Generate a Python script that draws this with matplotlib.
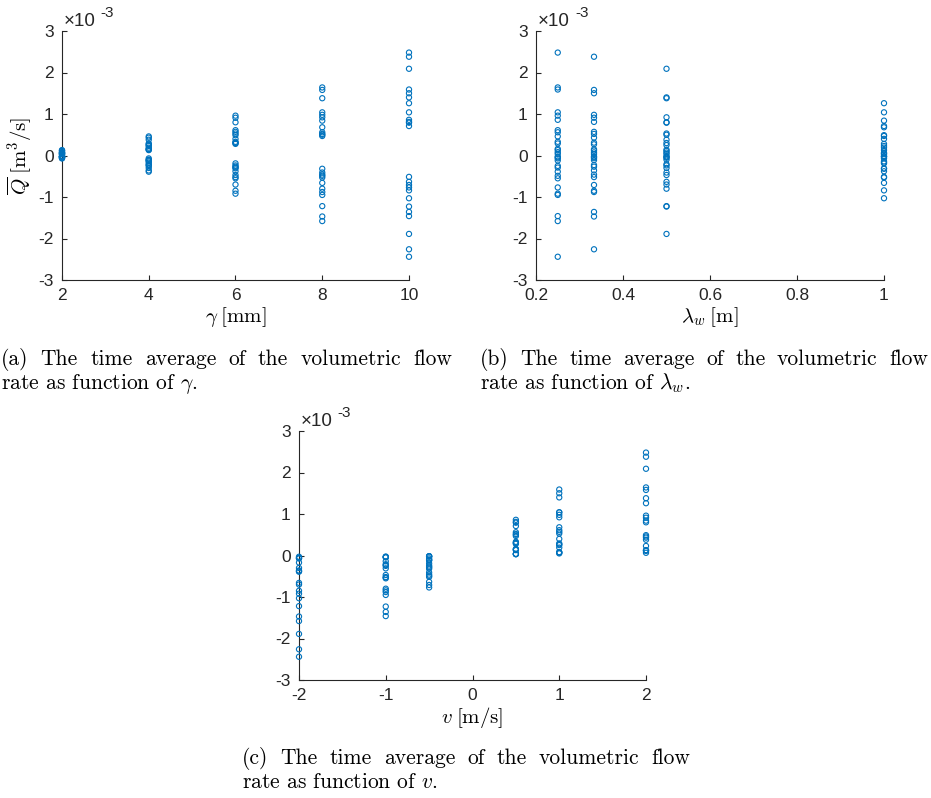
import matplotlib
matplotlib.use("Agg")
import matplotlib.pyplot as plt
import numpy as np
from matplotlib.ticker import FuncFormatter

plt.rcParams["mathtext.fontset"] = "cm"
plt.rcParams["font.family"] = ["Liberation Sans", "DejaVu Sans"]

# parameter values of the runs
gamma_vals = [2, 4, 6, 8, 10]          # mm
lambda_vals = [0.25, 1 / 3, 0.5, 1.0]  # m
v_vals = [-2, -1, -0.5, 0.5, 1, 2]     # m/s

# time averaged flow rate, x1e-3 m^3/s ; rows = v, columns = lambda
Q_g2 = [[-0.07, -0.065, -0.055, -0.03],
        [-0.045, -0.04, -0.035, -0.025],
        [-0.025, -0.02, -0.02, -0.015],
        [0.04, 0.035, 0.035, 0.03],
        [0.08, 0.075, 0.07, 0.05],
        [0.13, 0.12, 0.11, 0.065]]
Q_g4 = [[-0.39, -0.36, -0.30, -0.17],
        [-0.25, -0.23, -0.21, -0.14],
        [-0.12, -0.11, -0.10, -0.07],
        [0.16, 0.15, 0.14, 0.13],
        [0.29, 0.27, 0.25, 0.19],
        [0.46, 0.43, 0.38, 0.23]]
Q_g6 = [[-0.92, -0.85, -0.70, -0.38],
        [-0.55, -0.52, -0.47, -0.31],
        [-0.29, -0.27, -0.24, -0.19],
        [0.33, 0.31, 0.30, 0.28],
        [0.61, 0.57, 0.53, 0.40],
        [0.96, 0.91, 0.80, 0.49]]
Q_g8 = [[-1.58, -1.47, -1.22, -0.66],
        [-0.95, -0.88, -0.80, -0.53],
        [-0.49, -0.46, -0.41, -0.32],
        [0.56, 0.52, 0.50, 0.47],
        [1.04, 0.98, 0.92, 0.68],
        [1.64, 1.58, 1.38, 0.84]]
Q_g10 = [[-2.44, -2.26, -1.89, -1.03],
         [-1.46, -1.36, -1.23, -0.84],
         [-0.77, -0.71, -0.635, -0.515],
         [0.86, 0.81, 0.79, 0.71],
         [1.59, 1.50, 1.40, 1.04],
         [2.48, 2.38, 2.09, 1.26]]
Q_tables = [Q_g2, Q_g4, Q_g6, Q_g8, Q_g10]

# flatten into one list of runs
run_gamma, run_lambda, run_v, run_Q = [], [], [], []
for g, tab in zip(gamma_vals, Q_tables):
    for vi, v in enumerate(v_vals):
        for li, lam in enumerate(lambda_vals):
            run_gamma.append(g)
            run_lambda.append(lam)
            run_v.append(v)
            run_Q.append(tab[vi][li])

W, H = 931, 798
fig = plt.figure(figsize=(W / 100, H / 100), dpi=100)

blue = "#0072BD"
axcol = "#262626"


def px_axes(left, top, right, bottom):
    return fig.add_axes([left / W, 1 - bottom / H, (right - left) / W, (bottom - top) / H])


def style(ax, xlim, xticks):
    ax.set_xlim(xlim)
    ax.set_ylim(-3, 3)
    ax.set_xticks(xticks)
    ax.set_yticks(range(-3, 4))
    fmt = FuncFormatter(lambda x, p: "%g" % x)
    ax.xaxis.set_major_formatter(fmt)
    ax.yaxis.set_major_formatter(fmt)
    for s in ["top", "right"]:
        ax.spines[s].set_visible(False)
    for s in ["left", "bottom"]:
        ax.spines[s].set_color(axcol)
        ax.spines[s].set_linewidth(0.8)
    ax.tick_params(direction="in", length=3.5, width=0.8, color=axcol,
                   labelsize=12.5, labelcolor=axcol, pad=6)
    ax.text(0.006, 1.022, "\u00d710", transform=ax.transAxes, fontsize=13.5,
            color=axcol, va="baseline", ha="left")
    ax.text(0.112, 1.058, "-3", transform=ax.transAxes, fontsize=11,
            color=axcol, va="baseline", ha="left")


def dots(ax, x, y):
    ax.scatter(x, y, s=14, facecolors="none", edgecolors=blue, linewidths=0.8,
               clip_on=False, zorder=3)


ax_a = px_axes(62, 31, 409, 280)
style(ax_a, (2, 10), [2, 4, 6, 8, 10])
dots(ax_a, run_gamma, run_Q)
ax_a.set_xlabel(r"$\gamma\;[\mathrm{mm}]$", fontsize=15, labelpad=1)
ax_a.set_ylabel(r"$\overline{Q}\;[\mathrm{m}^3/\mathrm{s}]$", fontsize=15, labelpad=3)

ax_b = px_axes(536, 31, 884, 280)
style(ax_b, (0.2, 1.0), [0.2, 0.4, 0.6, 0.8, 1.0])
dots(ax_b, run_lambda, run_Q)
ax_b.set_xlabel(r"$\lambda_w\;[\mathrm{m}]$", fontsize=15, labelpad=1)

ax_c = px_axes(299, 431, 646, 680)
style(ax_c, (-2, 2), [-2, -1, 0, 1, 2])
dots(ax_c, run_v, run_Q)
ax_c.set_xlabel(r"$v\;[\mathrm{m/s}]$", fontsize=15, labelpad=1)

# captions, first line justified
renderer = fig.canvas.get_renderer()
cap_fs = 15.5


def caption(x0, base1, width, line1, line2):
    words = line1.split(" ")
    objs = []
    for w in words:
        t = fig.text(x0 / W, 1 - base1 / H, w, fontsize=cap_fs, family="cmr10",
                     va="baseline", ha="left")
        objs.append(t)
    widths = [t.get_window_extent(renderer).width for t in objs]
    gap = (width - sum(widths)) / (len(words) - 1)
    x = x0
    for t, wd in zip(objs, widths):
        t.set_x(x / W)
        x += wd + gap
    fig.text(x0 / W, 1 - (base1 + 24) / H, line2, fontsize=cap_fs, family="cmr10",
             va="baseline", ha="left")


line1 = "The time average of the volumetric flow"
caption(1, 365, 451, "(a) " + line1, r"rate as function of $\gamma$.")
caption(480, 365, 448, "(b) " + line1, r"rate as function of $\lambda_w$.")
caption(242, 764, 448, "(c) " + line1, r"rate as function of $v$.")

fig.savefig("out.png", dpi=100)
